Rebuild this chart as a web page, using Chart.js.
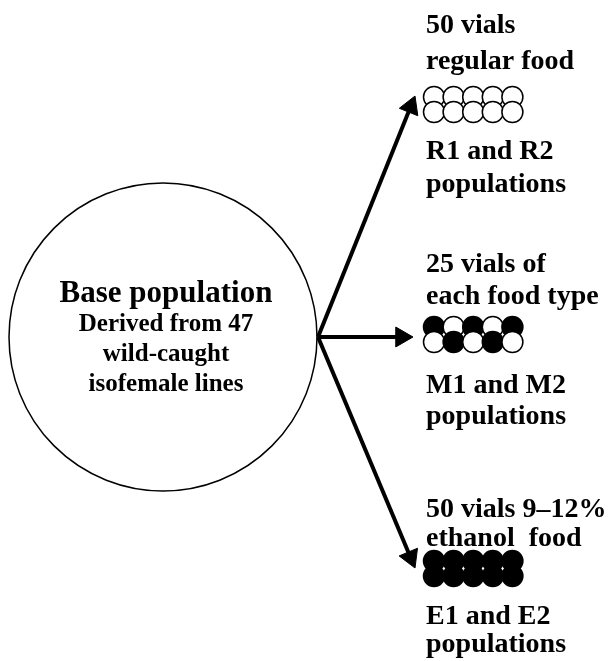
<!DOCTYPE html>
<html>
<head>
<meta charset="utf-8">
<script src="https://cdn.jsdelivr.net/npm/chart.js@4/dist/chart.umd.min.js"></script>
<style>
  html, body { margin: 0; padding: 0; background: #fff; }
  canvas { display: block; }
</style>
</head>
<body>
<canvas id="diagram" width="614" height="661"></canvas>
<script>
// text of the diagram
const baseTitle = "Base population";
const baseLines = ["Derived from 47", "wild-caught", "isofemale lines"];
const groupTop = [
    ["50 vials", "regular food"],
    ["25 vials of", "each food type"],
    ["50 vials 9\u201312%", "ethanol  food"]
];
const groupBottom = [
    ["R1 and R2", "populations"],
    ["M1 and M2", "populations"],
    ["E1 and E2", "populations"]
];
// food in each vial: 0 = regular (open), 1 = ethanol (filled); top row then bottom row
const vialFood = [
    [0, 0, 0, 0, 0, 0, 0, 0, 0, 0],
    [1, 0, 1, 0, 1, 0, 1, 0, 1, 0],
    [1, 1, 1, 1, 1, 1, 1, 1, 1, 1]
];

// layout (pixel units, y down)
const W = 614, H = 661;
const baseCenter = {x: 163, y: 337}, baseRadius = 154;
const arrowFrom = {x: 318, y: 337};
const arrowTips = [{x: 415, y: 96}, {x: 413, y: 337}, {x: 415, y: 568}];
const headR = 11.5;
const textX = 426;
const topBaselines = [[33, 69], [272, 304], [517, 546]];
const vialRowY = [97, 327, 561];
const bottomBaselines = [[159, 192], [393, 424], [624, 652]];
const vialX0 = 434, vialStep = 19.6, vialRowStep = 15, vialR = 10.5;

let arrowSets = [];
let heads = [];
arrowTips.forEach(tip => {
    let dx = tip.x - arrowFrom.x, dy = tip.y - arrowFrom.y;
    let len = Math.sqrt(dx * dx + dy * dy);
    let ux = dx / len, uy = dy / len;
    arrowSets.push({
        data: [arrowFrom, {x: tip.x - ux * headR * 1.3, y: tip.y - uy * headR * 1.3}],
        showLine: true, borderColor: "#000", borderWidth: 4, pointRadius: 0, order: 2
    });
    heads.push({x: tip.x - ux * headR, y: tip.y - uy * headR, rot: Math.atan2(ux, -uy) * 180 / Math.PI});
});

let vialSets = vialFood.map((foods, g) => {
    let pts = foods.map((f, i) => ({
        x: vialX0 + (i % 5) * vialStep,
        y: vialRowY[g] + Math.floor(i / 5) * vialRowStep
    }));
    return {
        data: pts,
        pointRadius: vialR,
        pointBorderWidth: 1.5,
        pointBorderColor: "#000",
        pointBackgroundColor: foods.map(f => f ? "#000" : "#fff"),
        order: 1
    };
});

const textPlugin = {
    id: "diagramText",
    afterDatasetsDraw(chart) {
        let ctx = chart.ctx;
        let xs = chart.scales.x, ys = chart.scales.y;
        ctx.save();
        ctx.fillStyle = "#000";
        ctx.textBaseline = "alphabetic";
        ctx.textAlign = "center";
        ctx.font = "bold 31px 'Liberation Serif', 'Times New Roman', serif";
        ctx.fillText(baseTitle, xs.getPixelForValue(166), ys.getPixelForValue(302));
        ctx.font = "bold 25px 'Liberation Serif', 'Times New Roman', serif";
        baseLines.forEach((t, i) => {
            ctx.fillText(t, xs.getPixelForValue(166), ys.getPixelForValue(331 + i * 30));
        });
        ctx.textAlign = "left";
        ctx.font = "bold 28px 'Liberation Serif', 'Times New Roman', serif";
        groupTop.forEach((lines, g) => {
            lines.forEach((t, i) => ctx.fillText(t, xs.getPixelForValue(textX), ys.getPixelForValue(topBaselines[g][i])));
        });
        groupBottom.forEach((lines, g) => {
            lines.forEach((t, i) => ctx.fillText(t, xs.getPixelForValue(textX), ys.getPixelForValue(bottomBaselines[g][i])));
        });
        ctx.restore();
    }
};

new Chart(document.getElementById("diagram").getContext("2d"), {
    type: "scatter",
    data: {
        datasets: [
            {
                data: [baseCenter], pointRadius: baseRadius, pointBorderWidth: 1.5,
                pointBorderColor: "#000", pointBackgroundColor: "rgba(0,0,0,0)", order: 3
            },
            ...arrowSets,
            {
                data: heads.map(h => ({x: h.x, y: h.y})),
                pointStyle: "triangle", pointRadius: headR,
                pointRotation: heads.map(h => h.rot),
                pointBackgroundColor: "#000", pointBorderColor: "#000", pointBorderWidth: 1, order: 0
            },
            ...vialSets
        ]
    },
    options: {
        responsive: false,
        animation: false,
        events: [],
        layout: {padding: 0, autoPadding: false},
        plugins: {legend: {display: false}, tooltip: {enabled: false}},
        scales: {
            x: {type: "linear", min: 0, max: W, display: false},
            y: {type: "linear", min: 0, max: H, reverse: true, display: false}
        }
    },
    plugins: [textPlugin]
});
</script>
</body>
</html>
